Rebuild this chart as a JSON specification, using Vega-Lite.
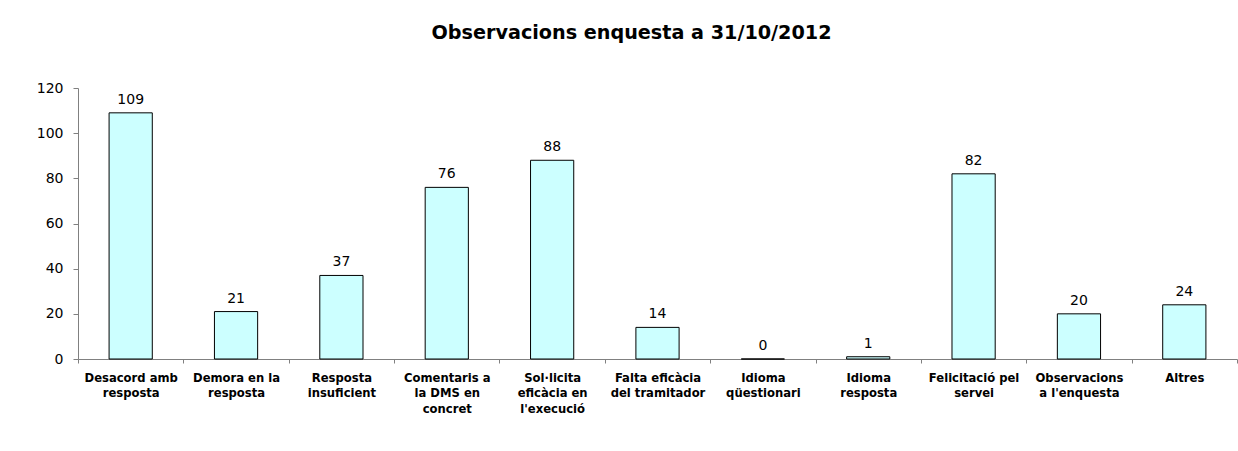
{
  "$schema": "https://vega.github.io/schema/vega-lite/v6.json",
  "width": 1159,
  "height": 271,
  "autosize": {"type": "none"},
  "padding": {"left": 78, "top": 88, "right": 1, "bottom": 92},
  "background": "white",
  "config": {"view": {"stroke": null}, "font": "DejaVu Sans"},
  "title": {
    "text": "Observacions enquesta a 31/10/2012",
    "font": "DejaVu Sans",
    "fontSize": 19.2,
    "fontWeight": "bold",
    "color": "black",
    "anchor": "middle",
    "frame": "group",
    "baseline": "alphabetic",
    "offset": 23,
    "dx": -26
  },
  "data": {
    "values": [
      {"categoria": "Desacord amb|resposta", "valor": 109},
      {"categoria": "Demora en la|resposta", "valor": 21},
      {"categoria": "Resposta|insuficient", "valor": 37},
      {"categoria": "Comentaris a|la DMS en|concret", "valor": 76},
      {"categoria": "Sol·licita|eficàcia en|l'execució", "valor": 88},
      {"categoria": "Falta eficàcia|del tramitador", "valor": 14},
      {"categoria": "Idioma|qüestionari", "valor": 0},
      {"categoria": "Idioma|resposta", "valor": 1},
      {"categoria": "Felicitació pel|servei", "valor": 82},
      {"categoria": "Observacions|a l'enquesta", "valor": 20},
      {"categoria": "Altres", "valor": 24}
    ]
  },
  "encoding": {
    "x": {
      "field": "categoria",
      "type": "nominal",
      "sort": null,
      "scale": {"paddingInner": 0, "paddingOuter": 0},
      "axis": {
        "title": null,
        "labelAngle": 0,
        "labelExpr": "isValid(datum.value) ? split(datum.value, '|') : ''",
        "labelFont": "DejaVu Sans",
        "labelFontWeight": "bold",
        "labelFontSize": 11.6,
        "labelLineHeight": 15.5,
        "labelColor": "black",
        "labelBaseline": "top",
        "labelPadding": 9,
        "labelOverlap": false,
        "labelBound": false,
        "labelFlush": false,
        "tickBand": "extent",
        "tickSize": 4,
        "tickColor": "#808080",
        "domainColor": "#808080"
      }
    }
  },
  "layer": [
    {
      "mark": {"type": "bar", "fill": "#CCFFFF", "stroke": "black", "strokeWidth": 1, "width": {"band": 0.41}},
      "encoding": {
        "y": {
          "field": "valor",
          "type": "quantitative",
          "scale": {"domain": [0, 120], "nice": false},
          "axis": {
            "title": null,
            "values": [0, 20, 40, 60, 80, 100, 120],
            "grid": false,
            "tickSize": 5,
            "labelPadding": 10,
            "labelFont": "DejaVu Sans",
            "labelFontSize": 14,
            "labelColor": "black",
            "tickColor": "#808080",
            "domainColor": "#808080"
          }
        }
      }
    },
    {
      "mark": {"type": "text", "font": "DejaVu Sans", "fontSize": 14, "color": "black", "baseline": "alphabetic", "dy": -9},
      "encoding": {
        "y": {"field": "valor", "type": "quantitative"},
        "text": {"field": "valor", "type": "quantitative"}
      }
    }
  ]
}
